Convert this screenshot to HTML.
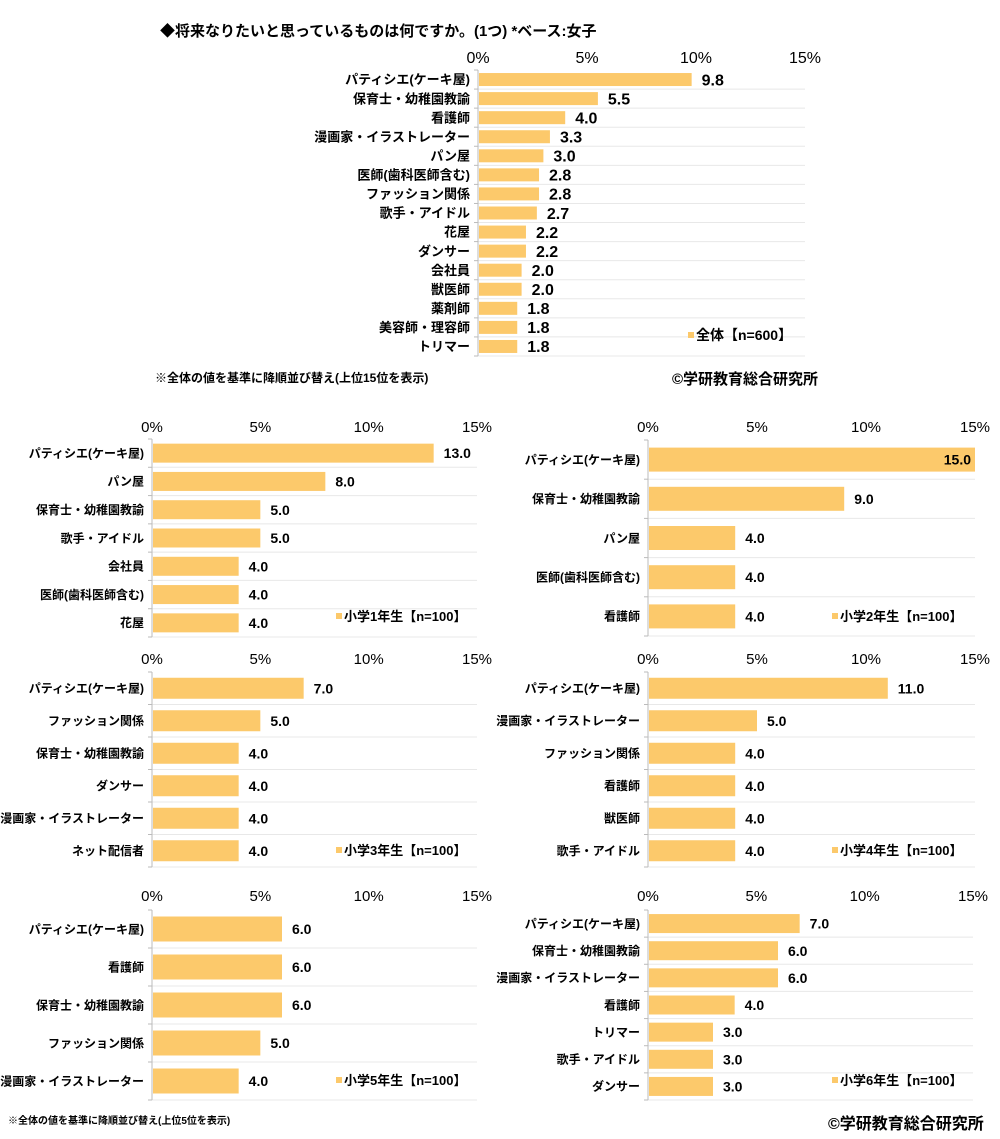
<!DOCTYPE html>
<html><head><meta charset="utf-8">
<style>
html,body{margin:0;padding:0;background:#fff;}
body{width:1000px;height:1134px;position:relative;overflow:hidden;font-family:"Liberation Sans","Noto Sans CJK JP",sans-serif;color:#111;}
svg text{font-family:"Liberation Sans","Noto Sans CJK JP",sans-serif;}
</style></head>
<body>
<svg id="c" width="1000" height="1134" viewBox="0 0 1000 1134" xmlns="http://www.w3.org/2000/svg">
<text x="160" y="36" font-size="15" font-weight="bold">◆将来なりたいと思っているものは何ですか。(1つ) *ベース:女子</text>
<text x="155" y="382" font-size="12" font-weight="bold">※全体の値を基準に降順並び替え(上位15位を表示)</text>
<text x="672" y="384" font-size="15" font-weight="bold">©学研教育総合研究所</text>
<text x="8" y="1124" font-size="10" font-weight="bold">※全体の値を基準に降順並び替え(上位5位を表示)</text>
<text x="828" y="1129" font-size="16" font-weight="bold">©学研教育総合研究所</text>
</svg>
<script>
const ticks=[0,5,10,15];
const tickLabels=["0%","5%","10%","15%"];
const allCats=["パティシエ(ケーキ屋)","保育士・幼稚園教諭","看護師","漫画家・イラストレーター","パン屋","医師(歯科医師含む)","ファッション関係","歌手・アイドル","花屋","ダンサー","会社員","獣医師","薬剤師","美容師・理容師","トリマー"];
const allVals=[9.8,5.5,4.0,3.3,3.0,2.8,2.8,2.7,2.2,2.2,2.0,2.0,1.8,1.8,1.8];
const g1Cats=["パティシエ(ケーキ屋)","パン屋","保育士・幼稚園教諭","歌手・アイドル","会社員","医師(歯科医師含む)","花屋"];
const g1Vals=[13.0,8.0,5.0,5.0,4.0,4.0,4.0];
const g2Cats=["パティシエ(ケーキ屋)","保育士・幼稚園教諭","パン屋","医師(歯科医師含む)","看護師"];
const g2Vals=[15.0,9.0,4.0,4.0,4.0];
const g3Cats=["パティシエ(ケーキ屋)","ファッション関係","保育士・幼稚園教諭","ダンサー","漫画家・イラストレーター","ネット配信者"];
const g3Vals=[7.0,5.0,4.0,4.0,4.0,4.0];
const g4Cats=["パティシエ(ケーキ屋)","漫画家・イラストレーター","ファッション関係","看護師","獣医師","歌手・アイドル"];
const g4Vals=[11.0,5.0,4.0,4.0,4.0,4.0];
const g5Cats=["パティシエ(ケーキ屋)","看護師","保育士・幼稚園教諭","ファッション関係","漫画家・イラストレーター"];
const g5Vals=[6.0,6.0,6.0,5.0,4.0];
const g6Cats=["パティシエ(ケーキ屋)","保育士・幼稚園教諭","漫画家・イラストレーター","看護師","トリマー","歌手・アイドル","ダンサー"];
const g6Vals=[7.0,6.0,6.0,4.0,3.0,3.0,3.0];

const svg=document.getElementById('c');
const NS='http://www.w3.org/2000/svg';
function mk(tag,attrs,txt){const e=document.createElementNS(NS,tag);for(const k in attrs)e.setAttribute(k,attrs[k]);if(txt!==undefined)e.textContent=txt;svg.appendChild(e);return e;}

function panel(id,cats,vals,legend,L){
  const xs=v=>L.x0+(v/15)*(L.x1-L.x0);
  const n=cats.length, band=(L.y1-L.y0)/n;
  const ys=i=>L.y0+band*i;
  for(let i=1;i<=n;i++){
    const gl=mk('line',{x1:L.x0,x2:L.x1,y1:ys(i),y2:ys(i),stroke:'#e8e8e8','stroke-width':1});
    
    
  }
  const ax=mk('line',{x1:L.x0,x2:L.x0,y1:L.y0,y2:L.y1,stroke:'#bbb','stroke-width':1});
  
  
  for(let i=0;i<=n;i++){
    const tk=mk('line',{x1:L.x0-4,x2:L.x0,y1:ys(i),y2:ys(i),stroke:'#bbb','stroke-width':1});
    
    
  }
  ticks.forEach((t,i)=>{
    const tl=mk('text',{x:xs(t),y:L.ty,'text-anchor':'middle','font-size':L.tf},tickLabels[i]);
    
    
  });
  cats.forEach((c,i)=>{
    const cy=ys(i)+band/2;
    const lb=mk('text',{x:L.x0-8,y:cy+L.lf*0.36,'text-anchor':'end','font-size':L.lf,'font-weight':'bold'},c);
    
    
    const b=mk('rect',{x:L.x0+1,y:cy-L.bh/2,width:xs(vals[i])-L.x0-1,height:L.bh,fill:'#fcc96b'});
    
    
    const inside=xs(vals[i])+L.vg+30>L.x1+5;
    const vl=mk('text',{x:inside?xs(vals[i])-4:xs(vals[i])+L.vg,y:cy+L.vf*0.36,'text-anchor':inside?'end':'start','font-size':L.vf,'font-weight':'bold'},vals[i].toFixed(1));
    
    
  });
  const lr=mk('rect',{x:L.lx,y:L.ly-8,width:6,height:6,fill:'#fcc96b'});
  
  
  const lt=mk('text',{x:L.lx+8,y:L.ly,'font-size':L.lgf,'font-weight':'bold'},legend);
  
  
}
panel('overall-chart',allCats,allVals,'全体【n=600】',{x0:478,x1:805,y0:70,y1:356,bh:13,ty:63,tf:16,lf:13,vf:16,vg:10,lx:688,ly:340,lgf:14});
panel('grade1-chart',g1Cats,g1Vals,'小学1年生【n=100】',{x0:152,x1:477,y0:439,y1:637,bh:19,ty:432,tf:15,lf:12,vf:14,vg:10,lx:336,ly:621,lgf:13});
panel('grade2-chart',g2Cats,g2Vals,'小学2年生【n=100】',{x0:648,x1:975,y0:440,y1:636,bh:24,ty:432,tf:15,lf:12,vf:14,vg:10,lx:832,ly:621,lgf:13});
panel('grade3-chart',g3Cats,g3Vals,'小学3年生【n=100】',{x0:152,x1:477,y0:672,y1:867,bh:21,ty:664,tf:15,lf:12,vf:14,vg:10,lx:336,ly:855,lgf:13});
panel('grade4-chart',g4Cats,g4Vals,'小学4年生【n=100】',{x0:648,x1:975,y0:672,y1:867,bh:21,ty:664,tf:15,lf:12,vf:14,vg:10,lx:832,ly:855,lgf:13});
panel('grade5-chart',g5Cats,g5Vals,'小学5年生【n=100】',{x0:152,x1:477,y0:910,y1:1100,bh:25,ty:901,tf:15,lf:12,vf:14,vg:10,lx:336,ly:1085,lgf:13});
panel('grade6-chart',g6Cats,g6Vals,'小学6年生【n=100】',{x0:648,x1:973,y0:910,y1:1100,bh:19,ty:901,tf:15,lf:12,vf:14,vg:10,lx:832,ly:1085,lgf:13});
</script>
</body></html>
